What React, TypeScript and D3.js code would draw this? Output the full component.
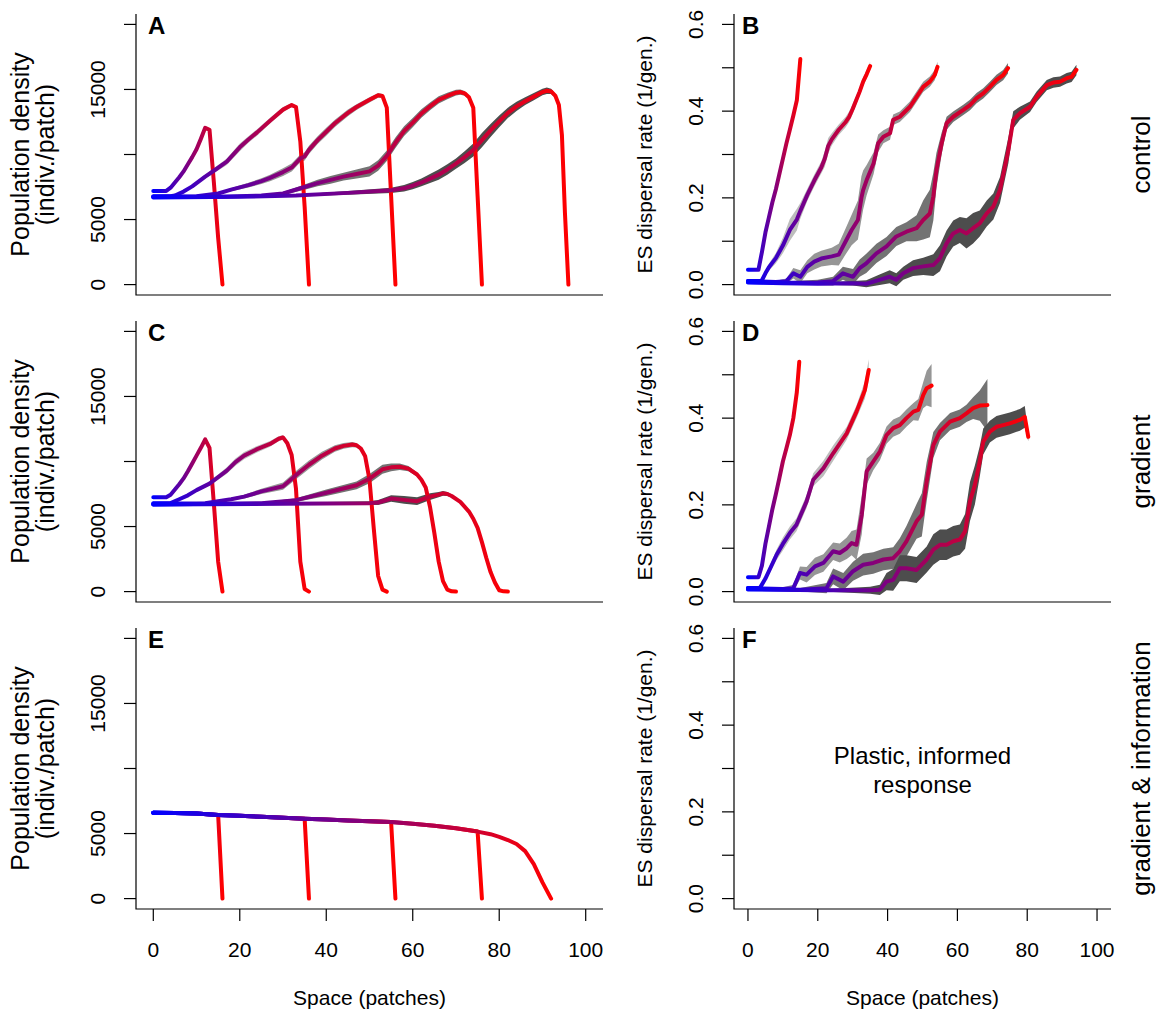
import React from 'react';
import * as d3 from 'd3';

type Pt = [number, number, number];

// ---------- tick / label data ----------
const xTicks = [0, 20, 40, 60, 80, 100];
const densTicks = [0, 5000, 10000, 15000, 20000];
const densLabels = [0, 5000, 15000];
const dispTicks = [0, 0.1, 0.2, 0.3, 0.4, 0.5, 0.6];
const dispLabels = [0, 0.2, 0.4, 0.6];
const rowLabels = ['control', 'gradient', 'gradient & information'];
const panelLetters = ['A', 'B', 'C', 'D', 'E', 'F'];
const bandGrays = ['#d9d9d9', '#bdbdbd', '#969696', '#737373', '#4d4d4d'];

// ---------- Panel A: density, control  [x, mean, band half-width] ----------
const A1: Pt[] = [[0,7200,0],[3,7200,0],[4,7450,40],[5,7850,60],[6,8250,80],[7,8700,80],[8,9250,100],[9,9800,100],[10,10400,120],[11,11200,120],[12,12050,120],[13,11900,100],[14,7900,80],[15,3600,50],[16,0,0]];
const A2: Pt[] = [[0,6800,0],[4,6800,0],[5,6850,30],[7,7150,60],[9,7550,100],[12,8300,150],[14,8750,200],[17,9450,250],[20,10550,300],[22,11150,250],[24,11700,250],[27,12600,220],[30,13450,200],[32,13800,150],[33,13650,120],[34,11000,100],[35,6000,60],[36,0,0]];
const A3: Pt[] = [[0,6750,0],[10,6800,20],[15,7000,60],[18,7300,120],[22,7650,180],[25,7950,220],[27,8200,250],[30,8650,300],[32,9000,300],[34,9700,300],[35,9850,320],[36,10350,320],[38,11100,300],[40,11750,300],[42,12400,280],[45,13200,260],[47,13650,220],[50,14200,200],[52,14550,180],[53,14500,150],[54,13600,100],[55,6800,60],[56,0,0]];
const A4: Pt[] = [[0,6750,0],[15,6750,20],[25,6850,60],[30,7000,120],[35,7500,200],[38,7800,250],[41,8050,300],[44,8300,300],[47,8500,350],[50,8700,400],[52,9150,400],[54,9900,400],[56,10900,400],[58,11800,380],[60,12450,350],[62,13150,330],[64,13700,300],[66,14200,280],[68,14500,250],[70,14750,220],[71,14800,200],[72,14700,180],[73,14400,150],[74,13600,100],[75,6800,60],[76,0,0]];
const A5: Pt[] = [[0,6700,0],[20,6750,20],[33,6850,60],[45,7050,150],[55,7250,200],[58,7400,250],[60,7600,280],[62,7850,300],[64,8150,350],[66,8450,400],[68,8850,400],[70,9300,400],[72,9800,450],[74,10350,500],[76,11100,550],[78,11850,500],[80,12550,450],[82,13200,400],[84,13700,350],[86,14100,300],[88,14450,280],[90,14800,250],[91,14900,250],[92,14850,200],[93,14500,150],[93.8,13800,100],[94.5,11500,80],[95.2,5500,40],[96,0,0]];

// ---------- Panel B: dispersal, control ----------
const B1: Pt[] = [[0,0.034,0],[3,0.034,0],[4,0.075,0.003],[5,0.12,0.004],[6,0.155,0.005],[7,0.19,0.005],[8,0.22,0.005],[9,0.255,0.005],[10,0.29,0.005],[11,0.325,0.005],[12,0.357,0.005],[13,0.39,0.005],[14,0.425,0.005],[15,0.52,0.005]];
const B2: Pt[] = [[0,0.008,0],[3,0.008,0],[4,0.01,0.003],[5,0.026,0.005],[6,0.04,0.008],[8,0.061,0.012],[10,0.09,0.018],[12,0.126,0.025],[14,0.15,0.025],[15,0.17,0.018],[17,0.207,0.014],[19,0.24,0.014],[21,0.27,0.014],[22,0.29,0.018],[23,0.32,0.018],[24,0.335,0.014],[26,0.357,0.012],[28,0.375,0.012],[29,0.387,0.012],[30,0.405,0.012],[31,0.425,0.01],[32,0.445,0.01],[33,0.468,0.01],[34,0.485,0.01],[35,0.504,0.01]];
const B3: Pt[] = [[0,0.008,0],[8,0.006,0.003],[11,0.008,0.006],[13,0.026,0.012],[15,0.018,0.015],[17,0.041,0.015],[19,0.053,0.018],[21,0.06,0.018],[24,0.065,0.02],[26,0.069,0.025],[28,0.1,0.03],[29.7,0.126,0.035],[31.5,0.149,0.045],[32.5,0.2,0.05],[33,0.218,0.045],[34,0.241,0.035],[36,0.28,0.025],[37.3,0.326,0.02],[38.8,0.341,0.015],[40.7,0.349,0.015],[41.6,0.38,0.012],[43.5,0.387,0.012],[46.4,0.41,0.012],[48.3,0.433,0.012],[50.2,0.456,0.012],[52.1,0.468,0.012],[53.5,0.483,0.012],[54.3,0.502,0.012]];
const B4: Pt[] = [[0,0.006,0],[10,0.004,0.003],[20,0.005,0.006],[24.4,0.008,0.01],[27.2,0.026,0.015],[30.1,0.018,0.018],[32,0.038,0.02],[33.9,0.049,0.022],[36.8,0.072,0.022],[39.7,0.088,0.022],[42.5,0.111,0.022],[45.4,0.122,0.022],[48.3,0.13,0.03],[50.2,0.149,0.045],[52.1,0.164,0.055],[53.1,0.203,0.055],[54,0.264,0.04],[55.5,0.326,0.025],[56.9,0.372,0.015],[58.8,0.387,0.012],[61.7,0.403,0.012],[63.6,0.414,0.012],[65.5,0.43,0.012],[67.4,0.441,0.012],[69.3,0.456,0.012],[71.2,0.472,0.012],[73.1,0.483,0.012],[74.5,0.499,0.012]];
const B5: Pt[] = [[0,0.005,0],[10,0.003,0],[20,0.002,0.002],[30,0.003,0.005],[33.9,0.002,0.008],[37.7,0.011,0.012],[40.6,0.018,0.015],[42.5,0.011,0.015],[44.5,0.026,0.015],[47.3,0.038,0.018],[50.2,0.042,0.02],[53.1,0.045,0.025],[55,0.061,0.03],[56.9,0.095,0.03],[58.8,0.118,0.03],[60.7,0.126,0.03],[62.6,0.118,0.035],[64.5,0.13,0.035],[66.4,0.141,0.03],[68.4,0.164,0.03],[70.3,0.18,0.03],[72.2,0.218,0.03],[73.6,0.272,0.03],[74.6,0.31,0.03],[76,0.38,0.02],[77.9,0.395,0.015],[80.8,0.41,0.012],[82.7,0.433,0.012],[85.6,0.46,0.012],[87.5,0.466,0.012],[89.4,0.468,0.012],[91.3,0.476,0.012],[92.7,0.479,0.012],[94.1,0.495,0.012]];

// ---------- Panel C: density, gradient ----------
const C1: Pt[] = [[0,7250,0],[3,7250,0],[4,7450,40],[5,7850,60],[6,8250,80],[7,8700,80],[8,9250,100],[9,9850,100],[10,10450,100],[11,11050,100],[12,11700,100],[13,11050,80],[14,6800,60],[15,2300,30],[16,0,0]];
const C2: Pt[] = [[0,6800,0],[4,6800,0],[6,7100,40],[8,7400,80],[10,7800,120],[13,8300,150],[15,8800,200],[17,9300,250],[19,9950,280],[21,10450,280],[24,10950,250],[27,11350,220],[29,11750,200],[30,11850,180],[31,11400,150],[32,10500,120],[33,7900,80],[34,2300,40],[35,200,0],[36,0,0]];
const C3: Pt[] = [[0,6750,0],[12,6800,30],[18,7100,100],[21,7300,150],[25,7700,200],[30,8100,280],[33,8950,320],[36,9750,320],[39,10450,300],[42,11000,250],[44,11200,220],[46,11300,200],[47,11250,180],[48,11000,150],[49,10400,120],[50,8600,100],[51,4800,60],[52,1200,30],[53,150,0],[54,0,0]];
const C4: Pt[] = [[0,6700,0],[25,6800,50],[33,7030,150],[40,7600,250],[47,8170,300],[50,8680,350],[53,9400,350],[55,9550,300],[57,9600,250],[59,9450,200],[61,9000,150],[62,8600,120],[63,8000,100],[64,6500,80],[65,4500,60],[66,2300,40],[67,800,20],[68,150,0],[69,20,0],[70,0,0]];
const C5: Pt[] = [[0,6700,0],[30,6750,50],[40,6780,100],[50,6800,150],[52,6850,200],[55,7150,250],[58,7050,300],[61,6950,300],[64,7300,250],[66,7450,200],[67,7550,180],[68,7500,150],[69,7350,120],[71,6900,100],[73,6150,80],[74,5600,60],[75,4900,50],[76,3800,40],[77,2600,30],[78,1500,20],[79,700,0],[80,100,0],[81,20,0],[82,0,0]];

// ---------- Panel D: dispersal, gradient ----------
const D1: Pt[] = [[0,0.033,0],[3,0.033,0],[4,0.06,0.003],[5,0.11,0.004],[6,0.15,0.005],[7,0.19,0.005],[8,0.225,0.005],[9,0.262,0.005],[10,0.3,0.005],[11,0.33,0.005],[12,0.361,0.005],[13,0.4,0.005],[14,0.46,0.005],[14.7,0.53,0.005]];
const D2: Pt[] = [[0,0.008,0],[3.4,0.008,0],[5,0.03,0.006],[8.2,0.085,0.012],[10,0.11,0.015],[12,0.135,0.015],[13.9,0.154,0.015],[16.8,0.208,0.015],[18.7,0.258,0.015],[21.6,0.284,0.018],[24.4,0.319,0.018],[28.3,0.365,0.015],[31.1,0.415,0.015],[33.5,0.465,0.02],[34.6,0.511,0.025]];
const D3: Pt[] = [[0,0.008,0],[10,0.006,0.004],[13,0.008,0.008],[14.9,0.043,0.015],[16.8,0.039,0.018],[19.2,0.058,0.02],[21.6,0.066,0.02],[24.4,0.093,0.02],[26.3,0.089,0.022],[28.3,0.1,0.025],[29.7,0.112,0.028],[31.1,0.108,0.035],[32.6,0.177,0.045],[34,0.277,0.03],[35.9,0.3,0.02],[37.8,0.323,0.02],[39.7,0.361,0.02],[41.6,0.377,0.02],[43.5,0.384,0.02],[45.4,0.4,0.02],[47.4,0.415,0.02],[48.8,0.419,0.025],[50.2,0.453,0.03],[51.2,0.469,0.04],[52.6,0.475,0.05]];
const D4: Pt[] = [[0,0.006,0],[15,0.004,0.004],[22.5,0.008,0.012],[24.4,0.035,0.018],[27.3,0.023,0.02],[30.1,0.047,0.022],[33,0.062,0.025],[35.9,0.066,0.025],[38.8,0.074,0.025],[41.6,0.077,0.025],[43.5,0.093,0.03],[45.4,0.116,0.035],[48.3,0.162,0.04],[49.8,0.177,0.05],[51.2,0.254,0.045],[53.1,0.338,0.03],[55,0.369,0.02],[57.9,0.392,0.02],[60.7,0.4,0.02],[62.6,0.411,0.02],[64.5,0.423,0.025],[66.4,0.429,0.035],[68.6,0.43,0.06]];
const D5: Pt[] = [[0,0.005,0],[20,0.003,0.002],[35,0.003,0.008],[37.8,0.004,0.012],[39.7,0.023,0.02],[41.6,0.027,0.025],[43.5,0.054,0.03],[45.4,0.054,0.03],[48.3,0.05,0.03],[51.2,0.074,0.03],[53.1,0.097,0.035],[55,0.108,0.035],[56.9,0.108,0.035],[58.8,0.116,0.035],[60.7,0.12,0.035],[62.2,0.139,0.04],[63.6,0.208,0.045],[65,0.246,0.045],[66.4,0.3,0.035],[67.4,0.346,0.03],[69.3,0.369,0.025],[71.2,0.38,0.025],[73.1,0.384,0.025],[75,0.388,0.025],[77.9,0.396,0.025],[79.3,0.403,0.025],[80.3,0.357,0.01]];

// ---------- Panel E: density, gradient & information ----------
const eProfile: [number, number][] = [[0,6600],[5,6580],[10,6540],[15,6420],[20,6360],[25,6290],[30,6220],[35,6140],[40,6080],[45,6000],[50,5950],[55,5880],[60,5760],[65,5600],[70,5400],[75,5150],[78,4950],[80,4750],[82,4500],[84,4200],[86,3650],[88,2650],[90,1250],[92,0]];
const eDrops = [16, 36, 56, 76];

const eCurves: Pt[][] = [
  ...eDrops.map((d) => [
    ...eProfile.filter((p) => p[0] <= d - 1).map((p) => [p[0], p[1], 0] as Pt),
    [d, 0, 0] as Pt,
  ]),
  eProfile.map((p) => [p[0], p[1], 0] as Pt),
];

const panelCurves: (Pt[][] | null)[] = [
  [A1, A2, A3, A4, A5],
  [B1, B2, B3, B4, B5],
  [C1, C2, C3, C4, C5],
  [D1, D2, D3, D4, D5],
  eCurves,
  null,
];

const FONT = '"Liberation Sans", Arial, Helvetica, sans-serif';
const rowTop = (r: number) => 14 + 307 * r;
const rowBottom = (r: number) => 295 + 307 * r;
const colRange: [number, number][] = [[136, 603], [734, 1111]];

function Panel({ idx }: { idx: number }) {
  const row = Math.floor(idx / 2);
  const col = idx % 2;
  const [x0, x1] = colRange[col];
  const top = rowTop(row);
  const bottom = rowBottom(row);
  const x = d3.scaleLinear().domain([-4, 104]).range([x0, x1]);
  const y =
    col === 0
      ? d3.scaleLinear().domain([-800, 20800]).range([bottom, top])
      : d3.scaleLinear().domain([-0.024, 0.624]).range([bottom, top]);
  const yTicks = col === 0 ? densTicks : dispTicks;
  const yLabels = col === 0 ? densLabels : dispLabels;
  const fmt = col === 0 ? (v: number) => String(v) : d3.format('.1f');
  const curves = panelCurves[idx];
  const line = d3
    .line<Pt>()
    .x((d) => x(d[0]))
    .y((d) => y(d[1]));
  const area = d3
    .area<Pt>()
    .x((d) => x(d[0]))
    .y0((d) => y(d[1] - d[2]))
    .y1((d) => y(d[1] + d[2]));
  const cy = (top + bottom) / 2;
  const cx = (x0 + x1) / 2;
  const isBottom = row === 2;

  return (
    <g>
      <defs>
        {curves &&
          curves.map((c, i) => (
            <linearGradient
              key={i}
              id={`grad-${idx}-${i}`}
              gradientUnits="userSpaceOnUse"
              x1={x(c[0][0])}
              x2={x(c[c.length - 1][0])}
              y1={0}
              y2={0}
            >
              <stop offset="0" stopColor="#0000ff" />
              <stop offset="1" stopColor="#ff0000" />
            </linearGradient>
          ))}
      </defs>
      {curves &&
        curves.map((c, i) => (
          <path key={'b' + i} d={area(c) || ''} fill={bandGrays[i]} stroke="none" />
        ))}
      {curves &&
        curves.map((c, i) => (
          <path
            key={'l' + i}
            d={line(c) || ''}
            fill="none"
            stroke={`url(#grad-${idx}-${i})`}
            strokeWidth={4}
            strokeLinecap="round"
            strokeLinejoin="round"
          />
        ))}
      {/* L-box */}
      <path d={`M${x0},${top}V${bottom}H${x1}`} fill="none" stroke="#000" strokeWidth={1.2} />
      {/* y ticks */}
      {yTicks.map((t) => (
        <line key={'yt' + t} x1={x0} x2={x0 - 12} y1={y(t)} y2={y(t)} stroke="#000" strokeWidth={1.2} />
      ))}
      {yLabels.map((t) => (
        <text
          key={'yl' + t}
          transform={`translate(${x0 - 31},${y(t)}) rotate(-90)`}
          textAnchor="middle"
          fontSize={21}
          fontFamily={FONT}
        >
          {fmt(t)}
        </text>
      ))}
      {/* x ticks (bottom row only) */}
      {isBottom &&
        xTicks.map((t) => (
          <g key={'xt' + t}>
            <line x1={x(t)} x2={x(t)} y1={bottom} y2={bottom + 12} stroke="#000" strokeWidth={1.2} />
            <text x={x(t)} y={bottom + 48} textAnchor="middle" fontSize={21} fontFamily={FONT}>
              {t}
            </text>
          </g>
        ))}
      {isBottom && (
        <text x={cx} y={1005} textAnchor="middle" fontSize={21} fontFamily={FONT}>
          Space (patches)
        </text>
      )}
      {/* y titles */}
      {col === 0 ? (
        <g fontSize={25} fontFamily={FONT} textAnchor="middle">
          <text transform={`translate(${x0 - 107},${cy}) rotate(-90)`}>Population density</text>
          <text transform={`translate(${x0 - 82},${cy}) rotate(-90)`}>(indiv./patch)</text>
        </g>
      ) : (
        <text
          transform={`translate(${x0 - 82},${cy}) rotate(-90)`}
          fontSize={21}
          fontFamily={FONT}
          textAnchor="middle"
        >
          ES dispersal rate (1/gen.)
        </text>
      )}
      {/* panel letter */}
      <text x={col === 0 ? 148 : 742} y={top + 20} fontSize={24} fontWeight="bold" fontFamily={FONT}>
        {panelLetters[idx]}
      </text>
      {col === 1 && (
        <text
          transform={`translate(1150,${cy}) rotate(-90)`}
          fontSize={26}
          fontFamily={FONT}
          textAnchor="middle"
        >
          {rowLabels[row]}
        </text>
      )}
      {idx === 5 && (
        <g fontSize={24} fontFamily={FONT} textAnchor="middle">
          <text x={cx} y={764}>Plastic, informed</text>
          <text x={cx} y={793}>response</text>
        </g>
      )}
    </g>
  );
}

export default function App() {
  return (
    <svg
      width={1158}
      height={1012}
      viewBox="0 0 1158 1012"
      style={{ position: 'absolute', left: 0, top: 0, background: '#fff' }}
    >
      <rect x={0} y={0} width={1158} height={1012} fill="#fff" />
      {[0, 1, 2, 3, 4, 5].map((i) => (
        <Panel key={i} idx={i} />
      ))}
    </svg>
  );
}
